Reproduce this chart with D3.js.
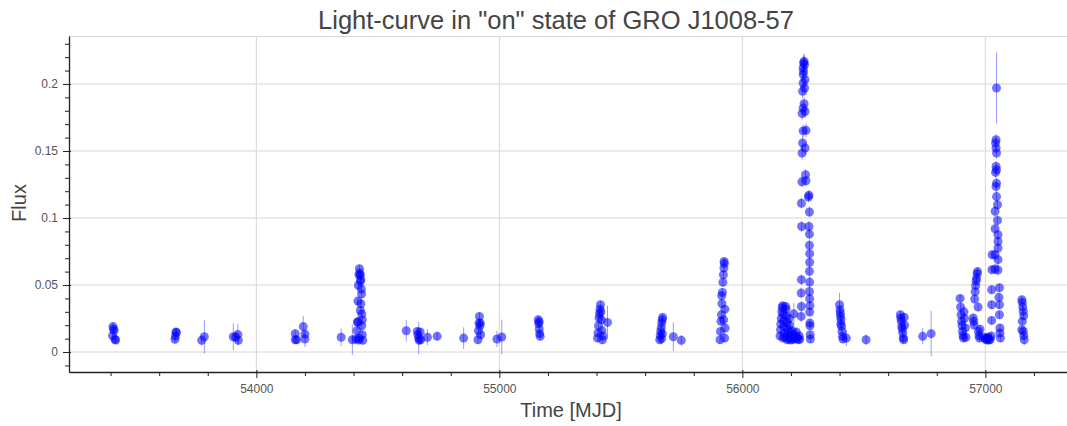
<!DOCTYPE html>
<html lang="en">
<meta charset="utf-8">
<head>
    <script src='https://d3js.org/d3.v7.min.js'></script>
    <style>
        body { margin: 0; background: #fff; }
        text { font-family: "Liberation Sans", Arial, Helvetica, sans-serif; }
    </style>
</head>
<body>
<div id="chart"></div>
<script>

// light-curve points, one array per outburst: [MJD, flux, flux error]
const ob2005 = [[53408,0.0122,0.003],[53410,0.0190,0.003],[53412,0.0172,0.003],[53415,0.0160,0.003],[53418,0.0095,0.003],[53421,0.0090,0.003],
    [53665,0.0095,0.003],[53667,0.0120,0.003],[53669,0.0150,0.003],[53671,0.0145,0.003],
    [53775,0.0087,0.004],[53786,0.0114,0.0125],
    [53905,0.0114,0.010],[53915,0.0112,0.004],[53924,0.0130,0.008],[53926,0.0087,0.003]]
const ob2007 = [[54160,0.0137,0.003],[54160,0.0092,0.003],[54166,0.0092,0.003],[54193,0.0190,0.008],[54200,0.0134,0.003],[54200,0.0097,0.006],
    [54349,0.0110,0.0066],[54395,0.0092,0.0115],[54410,0.0097,0.003],[54414,0.0159,0.004],[54416,0.0224,0.004],[54418,0.0380,0.003],
    [54420,0.0497,0.003],[54422,0.0577,0.003],[54424,0.0622,0.003],[54426,0.0590,0.003],[54428,0.0572,0.003],[54430,0.0540,0.003],
    [54428,0.0527,0.003],[54432,0.0470,0.003],[54433,0.0433,0.003],[54430,0.0360,0.003],[54428,0.0310,0.003],[54434,0.0283,0.003],
    [54436,0.0241,0.003],[54434,0.0196,0.003],[54436,0.0129,0.003],[54438,0.0087,0.003],[54420,0.0090,0.003],[54424,0.0102,0.003],[54418,0.0224,0.003]]
const ob2008 = [[54617,0.0159,0.008],[54662,0.0154,0.003],[54665,0.0129,0.003],[54668,0.0104,0.012],[54670,0.0087,0.003],[54674,0.0150,0.003],
    [54676,0.0092,0.003],[54704,0.0110,0.006],[54744,0.0117,0.003],
    [54853,0.0104,0.008],[54912,0.0092,0.003],[54914,0.0159,0.003],[54916,0.0216,0.003],[54918,0.0266,0.003],[54920,0.0196,0.003],
    [54922,0.0216,0.003],[54923,0.0129,0.003],[54990,0.0097,0.006],[55010,0.0112,0.013]]
const ob2010 = [[55160,0.0241,0.003],[55162,0.0211,0.003],[55164,0.0172,0.003],[55166,0.0137,0.003],[55168,0.0117,0.003],[55164,0.0226,0.003],
    [55404,0.0104,0.003],[55406,0.0142,0.003],[55408,0.0196,0.003],[55410,0.0254,0.003],[55412,0.0286,0.003],[55414,0.0320,0.003],
    [55416,0.0353,0.003],[55418,0.0300,0.003],[55420,0.0240,0.003],[55422,0.0160,0.003],[55424,0.0092,0.003],[55426,0.0120,0.003],[55445,0.0221,0.0125]]
const ob2011 = [[55660,0.0092,0.003],[55662,0.0122,0.003],[55664,0.0154,0.003],[55666,0.0181,0.003],[55668,0.0216,0.003],[55670,0.0240,0.003],
    [55672,0.0258,0.003],[55668,0.0100,0.004],[55671,0.0135,0.003],[55716,0.0114,0.0107],[55749,0.0087,0.004],
    [55908,0.0092,0.003],[55910,0.0154,0.003],[55912,0.0229,0.003],[55914,0.0278,0.003],[55916,0.0360,0.003],[55918,0.0445,0.003],
    [55920,0.0520,0.003],[55922,0.0577,0.003],[55924,0.0627,0.003],[55926,0.0660,0.003],[55925,0.0676,0.003],[55928,0.0320,0.003],
    [55929,0.0179,0.003],[55927,0.0104,0.003],[55923,0.0240,0.003],[55915,0.0420,0.003]]
const ob2012 = [[56155,0.0120,0.003],[56157,0.0166,0.003],[56158,0.0210,0.003],[56160,0.0250,0.003],[56162,0.0300,0.003],[56164,0.0330,0.003],
    [56166,0.0345,0.003],[56168,0.0280,0.003],[56170,0.0230,0.003],[56172,0.0190,0.003],[56174,0.0140,0.003],[56176,0.0110,0.003],
    [56178,0.0340,0.003],[56180,0.0320,0.003],[56182,0.0270,0.003],[56184,0.0220,0.003],[56186,0.0170,0.003],[56188,0.0130,0.003],
    [56190,0.0100,0.003],[56192,0.0250,0.003],[56194,0.0200,0.003],[56196,0.0150,0.003],[56198,0.0110,0.003],[56200,0.0090,0.003],
    [56204,0.0160,0.003],[56206,0.0120,0.003],[56208,0.0095,0.003],[56212,0.0285,0.008],[56214,0.0130,0.003],[56218,0.0100,0.003],
    [56222,0.0150,0.003],[56226,0.0110,0.003],[56230,0.0092,0.003],[56234,0.0120,0.003],[56236,0.0095,0.003],[56168,0.0105,0.003],[56185,0.0092,0.003],
    [56242,0.0266,0.004],[56243,0.0340,0.004],[56242,0.0440,0.004],[56243,0.0540,0.004],[56244,0.0937,0.004],[56243,0.1110,0.004],
    [56245,0.1270,0.004],[56262,0.1278,0.004],[56260,0.1323,0.004],[56246,0.1485,0.005],[56258,0.1522,0.005],[56248,0.1560,0.005],
    [56250,0.1650,0.005],[56262,0.1654,0.005],[56246,0.1780,0.005],[56258,0.1795,0.005],[56250,0.1820,0.005],[56254,0.1853,0.005],
    [56248,0.1945,0.005],[56256,0.1970,0.005],[56250,0.2007,0.005],[56258,0.2032,0.005],[56250,0.2070,0.005],[56252,0.2094,0.005],
    [56250,0.2120,0.006],[56256,0.2144,0.006],[56252,0.2157,0.006],[56254,0.2169,0.006],
    [56274,0.1170,0.004],[56272,0.1157,0.004],[56276,0.1045,0.004],[56274,0.0937,0.004],[56276,0.0880,0.004],[56276,0.0796,0.004],
    [56277,0.0734,0.004],[56277,0.0669,0.004],[56276,0.0602,0.004],[56277,0.0522,0.004],[56276,0.0452,0.004],[56277,0.0398,0.004],
    [56278,0.0346,0.003],[56277,0.0298,0.003],[56278,0.0216,0.003],[56278,0.0196,0.003],[56279,0.0129,0.003],[56280,0.0097,0.003]]
const ob2013 = [[56400,0.0353,0.009],[56402,0.0316,0.003],[56404,0.0266,0.003],[56406,0.0240,0.003],[56408,0.0191,0.003],[56410,0.0154,0.003],
    [56412,0.0117,0.003],[56414,0.0097,0.003],[56403,0.0290,0.003],[56405,0.0210,0.003],[56428,0.0104,0.006],[56509,0.0092,0.004],
    [56650,0.0278,0.003],[56652,0.0254,0.003],[56654,0.0229,0.003],[56656,0.0191,0.003],[56658,0.0172,0.003],[56660,0.0142,0.003],
    [56662,0.0104,0.003],[56664,0.0092,0.003],[56666,0.0260,0.003],[56668,0.0200,0.003],[56742,0.0117,0.006],[56777,0.0137,0.017]]
const ob2014 = [[56896,0.0400,0.003],[56898,0.0336,0.003],[56900,0.0278,0.003],[56902,0.0229,0.003],[56904,0.0196,0.003],[56906,0.0154,0.003],
    [56908,0.0122,0.003],[56910,0.0104,0.003],[56912,0.0300,0.003],[56914,0.0250,0.003],[56918,0.0180,0.003],[56920,0.0110,0.003],
    [56950,0.0254,0.003],[56952,0.0229,0.003],[56954,0.0201,0.003],[56956,0.0395,0.003],[56958,0.0450,0.003],[56960,0.0495,0.003],
    [56962,0.0530,0.003],[56964,0.0550,0.003],[56966,0.0585,0.003],[56968,0.0600,0.003],[56970,0.0336,0.003],[56972,0.0154,0.003],
    [56974,0.0122,0.003],[56976,0.0104,0.003],[56978,0.0170,0.003],
    [56995,0.0110,0.003],[57000,0.0095,0.003],[57004,0.0100,0.003],[57008,0.0090,0.003],[57012,0.0110,0.003],[57016,0.0090,0.003],
    [57020,0.0095,0.003],[57024,0.0120,0.003],[57010,0.0105,0.003],[57026,0.0236,0.003],[57026,0.0353,0.003],[57026,0.0465,0.003],
    [57027,0.0614,0.003],[57028,0.0726,0.003],
    [57046,0.1970,0.0265],[57044,0.1584,0.004],[57042,0.1560,0.004],[57044,0.1522,0.004],[57046,0.1485,0.004],[57044,0.1385,0.004],
    [57046,0.1360,0.004],[57042,0.1340,0.004],[57046,0.1260,0.004],[57044,0.1235,0.004],[57046,0.1160,0.004],[57050,0.1099,0.004],
    [57040,0.1050,0.004],[57050,0.0982,0.004],[57040,0.0920,0.004],[57052,0.0875,0.004],[57052,0.0825,0.004],[57052,0.0776,0.004],
    [57040,0.0726,0.004],[57052,0.0689,0.004],[57040,0.0620,0.004],[57052,0.0612,0.004],
    [57058,0.0480,0.003],[57056,0.0408,0.003],[57058,0.0353,0.003],[57058,0.0278,0.003],[57060,0.0179,0.003],[57060,0.0142,0.003],[57062,0.0104,0.003]]
const ob2015 = [[57150,0.0390,0.003],[57152,0.0370,0.003],[57154,0.0336,0.003],[57156,0.0303,0.003],[57158,0.0270,0.003],[57152,0.0229,0.003],
    [57150,0.0166,0.003],[57156,0.0154,0.003],[57158,0.0122,0.003],[57160,0.0092,0.004]]

const xMajor = [54000, 55000, 56000, 57000]
const yMajor = [0, 0.05, 0.1, 0.15, 0.2]

const points = [].concat(ob2005, ob2007, ob2008, ob2010, ob2011, ob2012, ob2013, ob2014, ob2015)

const width = 1067, height = 426
const margin = {top: 36, right: 0, bottom: 54, left: 69}

const svg = d3.select("#chart").append("svg")
    .attr("width", width)
    .attr("height", height)

const x = d3.scaleLinear()
    .domain([53229, 57336])
    .range([margin.left, width - margin.right])
const y = d3.scaleLinear()
    .domain([-0.0149, 0.2358])
    .range([height - margin.bottom, margin.top])

const x0 = margin.left, x1 = width - margin.right
const y0 = height - margin.bottom, y1 = margin.top

// grid
svg.append("g").selectAll("line")
    .data(xMajor).join("line")
    .attr("x1", d => x(d)).attr("x2", d => x(d))
    .attr("y1", y0).attr("y2", y1)
    .attr("stroke", "#d6d6d6")
svg.append("g").selectAll("line")
    .data(yMajor).join("line")
    .attr("x1", x0).attr("x2", x1)
    .attr("y1", d => y(d)).attr("y2", d => y(d))
    .attr("stroke", "#d6d6d6")
// frame top
svg.append("line")
    .attr("x1", x0).attr("x2", x1).attr("y1", y1 + 0.5).attr("y2", y1 + 0.5)
    .attr("stroke", "#d6d6d6")

// error bars
svg.append("g").selectAll("line")
    .data(points).join("line")
    .attr("x1", d => x(d[0])).attr("x2", d => x(d[0]))
    .attr("y1", d => y(d[1] - d[2])).attr("y2", d => y(d[1] + d[2]))
    .attr("stroke", "blue")
    .attr("stroke-opacity", 0.4)

// points
svg.append("g").selectAll("circle")
    .data(points).join("circle")
    .attr("cx", d => x(d[0]))
    .attr("cy", d => y(d[1]))
    .attr("r", 4.5)
    .attr("fill", "blue")
    .attr("fill-opacity", 0.55)

// axes
const xMinor = d3.range(53400, 57336, 200).filter(v => v % 1000 !== 0)
const yMinor = d3.range(-0.01, 0.236, 0.01).map(v => +v.toFixed(2)).filter(v => Math.abs(v * 100 % 5) > 1e-6)

const gx = svg.append("g").attr("transform", `translate(0,${y0})`)
gx.call(d3.axisBottom(x).tickValues(xMajor).tickSize(6).tickSizeOuter(0).tickPadding(6).tickFormat(d3.format("d")))
gx.append("g").call(d3.axisBottom(x).tickValues(xMinor).tickSize(4).tickFormat(""))
    .select(".domain").remove()
gx.selectAll(".tick line").attr("y1", -2)
gx.selectAll(".tick").filter(d => xMinor.includes(d)).select("line").attr("y1", 0)

const gy = svg.append("g").attr("transform", `translate(${x0},0)`)
gy.call(d3.axisLeft(y).tickValues(yMajor).tickSize(6).tickSizeOuter(0).tickPadding(5).tickFormat(d => String(+d.toFixed(2))))
gy.append("g").call(d3.axisLeft(y).tickValues(yMinor).tickSize(4).tickFormat(""))
    .select(".domain").remove()
gy.selectAll(".tick line").attr("x1", 2)
gy.selectAll(".tick").filter(d => yMinor.includes(d)).select("line").attr("x1", 0)

svg.selectAll(".domain").attr("stroke", "#222").attr("stroke-width", 1.3)
svg.selectAll(".tick line").attr("stroke", "#222")
svg.selectAll(".tick text")
    .attr("fill", "#555")
    .style("font-size", "12px")
    .style("font-family", '"Liberation Sans", Arial, sans-serif')

// labels
svg.append("text")
    .attr("x", 556).attr("y", 29)
    .attr("text-anchor", "middle")
    .attr("fill", "#444")
    .style("font-size", "25.5px")
    .text('Light-curve in "on" state of GRO J1008-57')
svg.append("text")
    .attr("x", 571).attr("y", 417)
    .attr("text-anchor", "middle")
    .attr("fill", "#444")
    .style("font-size", "20px")
    .text("Time [MJD]")
svg.append("text")
    .attr("transform", "translate(26,203) rotate(-90)")
    .attr("text-anchor", "middle")
    .attr("fill", "#444")
    .style("font-size", "20px")
    .text("Flux")

</script>
</body>
</html>
